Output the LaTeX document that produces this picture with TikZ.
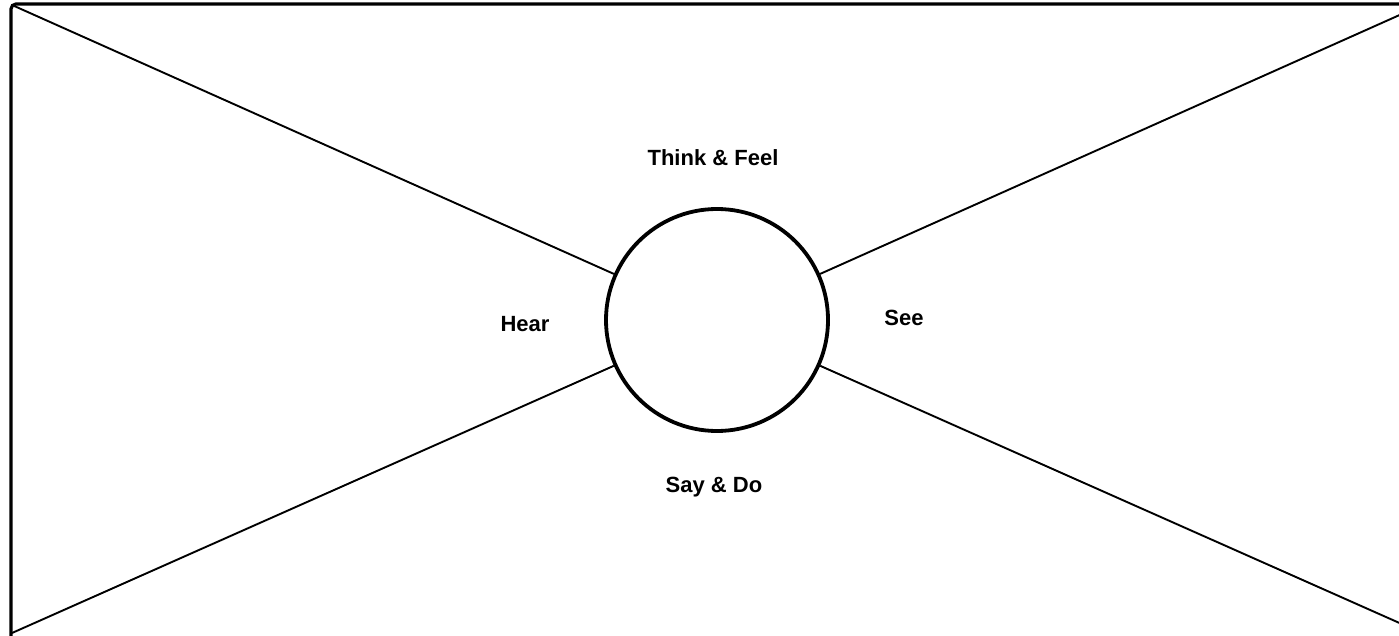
\documentclass[tikz,border=0pt]{standalone}
\usepackage{fontspec}
\setmainfont{Liberation Sans}
\usetikzlibrary{positioning}

\tikzset{
  quad/.style={font=\bfseries\fontsize{22}{26}\selectfont},
  spoke/.style={line width=1.9pt},
}

\begin{document}
\begin{tikzpicture}[x=1pt,y=-1pt]
  \useasboundingbox (0,0) rectangle (1399,636);
  \clip (0,0) rectangle (1399,636);

  % frame
  \draw[line width=3.2pt,rounded corners=5pt] (11,4) rectangle (1423,642);
  \coordinate (tl) at (12,5);
  \coordinate (tr) at (1422,5);
  \coordinate (bl) at (12,633);
  \coordinate (br) at (1422,633);

  % centre circle
  \node[circle,draw,line width=3.8pt,minimum size=222pt,inner sep=0pt] (persona) at (717,320) {};

  % spokes
  \draw[spoke] (tl) -- (persona);
  \draw[spoke] (tr) -- (persona);
  \draw[spoke] (bl) -- (persona);
  \draw[spoke] (br) -- (persona);

  % labels
  \node[quad] (think) at (713,158) {Think \& Feel};
  \node[quad] (hear) at (525,324) {Hear};
  \node[quad] (see) at (904,318) {See};
  \node[quad] (say) at (714,487) {Say \& Do};
\end{tikzpicture}
\end{document}
